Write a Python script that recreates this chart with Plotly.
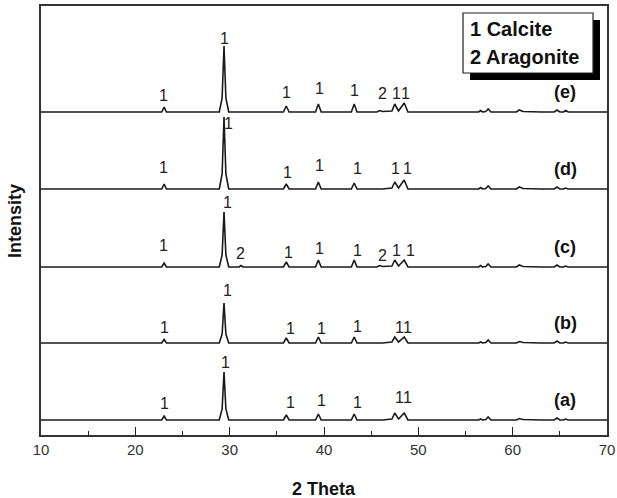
import plotly.graph_objects as go

# ---------------- data ----------------
two_theta = [10, 12, 14, 16, 18, 20, 22,
             22.8, 23.05, 23.3,
             25, 27,
             28.9, 29.2, 29.4, 29.6, 29.9,
             31.0, 31.2, 31.4,
             33,
             35.7, 36.0, 36.3,
             38,
             39.1, 39.4, 39.7,
             41,
             42.9, 43.2, 43.5,
             45.6, 45.9, 46.2,
             47.2, 47.5, 47.9, 48.5, 48.9,
             51, 54,
             56.4, 56.6, 56.8, 57.15, 57.4, 57.7,
             59,
             60.4, 60.7, 61.1,
             63,
             64.4, 64.7, 65.0, 65.4, 65.6, 65.9,
             68, 70]

# intensities above each pattern's own baseline
pattern_e = [0, 0, 0, 0, 0, 0, 0,
             0, 5, 0,
             0, 0,
             0, 14, 66, 14, 0,
             0, 0, 0,
             0,
             0, 6, 0,
             0,
             0, 8, 0,
             0,
             0, 8, 0,
             0, 1.5, 0.5,
             1, 8, 1, 9, 0,
             0, 0,
             0, 1.5, 0, 0.5, 3, 0,
             0,
             0, 2, 0.5,
             0,
             0, 2, 0, 0, 1.5, 0,
             0, 0]
pattern_d = [0, 0, 0, 0, 0, 0, 0,
             0, 5, 0,
             0, 0,
             0, 15, 72, 15, 0,
             0, 0, 0,
             0,
             0, 5, 0,
             0,
             0, 7, 0,
             0,
             0, 6, 0,
             0, 0, 0,
             1, 7, 1, 9, 0,
             0, 0,
             0, 1.5, 0, 0.5, 3, 0,
             0,
             0, 2, 0.5,
             0,
             0, 2, 0, 0, 1, 0,
             0, 0]
pattern_c = [0, 0, 0, 0, 0, 0, 0,
             0, 4, 0,
             0, 0,
             0, 12, 55, 12, 0,
             0, 1.5, 0,
             0,
             0, 5, 0,
             0,
             0, 7, 0,
             0,
             0, 7, 0,
             0, 1.5, 0.5,
             1, 7, 1, 7, 0,
             0, 0,
             0, 1.5, 0, 0.5, 3, 0,
             0,
             0, 2, 0.5,
             0,
             0, 2, 0, 0, 1, 0,
             0, 0]
pattern_b = [0, 0, 0, 0, 0, 0, 0,
             0, 3.5, 0,
             0, 0,
             0, 9, 40, 9, 0,
             0, 0, 0,
             0,
             0, 5, 0,
             0,
             0, 6, 0,
             0,
             0, 6, 0,
             0, 0, 0,
             1, 6, 1, 6, 0,
             0, 0,
             0, 1, 0, 0.5, 3, 0,
             0,
             0, 1.5, 0.5,
             0,
             0, 2, 0, 0, 1, 0,
             0, 0]
pattern_a = [0, 0, 0, 0, 0, 0, 0,
             0, 4, 0,
             0, 0,
             0, 11, 48, 11, 0,
             0, 0, 0,
             0,
             0, 5, 0,
             0,
             0, 6, 0,
             0,
             0, 6, 0,
             0, 0, 0,
             1, 7, 1, 7, 0,
             0, 0,
             0, 1, 0, 0.5, 3, 0,
             0,
             0, 1.5, 0.5,
             0,
             0, 2, 0, 0, 1, 0,
             0, 0]

sample_names = ["(a)", "(b)", "(c)", "(d)", "(e)"]
patterns = [pattern_a, pattern_b, pattern_c, pattern_d, pattern_e]
stack_offsets = [15, 92, 168, 246, 323]

# phase labels: (2theta, text, height above baseline)
phase_labels = {
    "(e)": [(23.0, "1", 17), (29.4, "1", 74), (36.0, "1", 20), (39.55, "1", 24),
            (43.25, "1", 22), (46.25, "2", 19), (47.65, "1", 19), (48.65, "1", 19)],
    "(d)": [(23.0, "1", 22), (29.85, "1", 66), (36.1, "1", 17), (39.5, "1", 24),
            (43.5, "1", 21), (47.6, "1", 21), (48.8, "1", 21)],
    "(c)": [(23.0, "1", 22), (29.8, "1", 65), (31.1, "2", 14), (36.2, "1", 15),
            (39.55, "1", 19), (43.5, "1", 17), (46.25, "2", 12), (47.65, "1", 17),
            (49.2, "1", 17)],
    "(b)": [(23.05, "1", 16), (29.8, "1", 53), (36.4, "1", 15), (39.7, "1", 15),
            (43.5, "1", 17), (48.0, "1", 16), (48.85, "1", 16)],
    "(a)": [(23.05, "1", 17), (29.6, "1", 58), (36.4, "1", 18), (39.7, "1", 20),
            (43.5, "1", 18), (47.95, "1", 23), (48.8, "1", 23)],
}

x_ticks = [10, 20, 30, 40, 50, 60, 70]
legend_lines = ["1 Calcite", "2 Aragonite"]

# ---------------- figure ----------------
FONT = "Liberation Sans, Arial, sans-serif"
fig = go.Figure()

for name, pat, off in zip(sample_names, patterns, stack_offsets):
    fig.add_trace(go.Scatter(
        x=two_theta, y=[off + v for v in pat], mode="lines",
        line=dict(color="#1a1a1a", width=1.6), name=name, showlegend=False,
        hoverinfo="skip"))

annotations = []
for name, off in zip(sample_names, stack_offsets):
    annotations.append(dict(x=65.6, y=off + 20, xref="x", yref="y", text=f"<b>{name}</b>",
                            showarrow=False, font=dict(family=FONT, size=18, color="#111")))
    for xx, tt, hh in phase_labels[name]:
        annotations.append(dict(x=xx, y=off + hh, xref="x", yref="y", text=tt,
                                showarrow=False, font=dict(family=FONT, size=16, color="#222")))

# legend box with drop shadow
shapes = [
    dict(type="rect", xref="paper", yref="y", x0=0.758, x1=0.9876, y0=355, y1=415,
         fillcolor="black", line=dict(width=0)),
    dict(type="rect", xref="paper", yref="y", x0=0.7456, x1=0.9753, y0=362, y1=422,
         fillcolor="white", line=dict(color="#222", width=1.2)),
]
annotations.append(dict(x=0.7545, y=406, xref="paper", yref="y", xanchor="left",
                        text=f"<b>{legend_lines[0]}</b>", showarrow=False,
                        font=dict(family=FONT, size=20, color="#111")))
annotations.append(dict(x=0.7545, y=378, xref="paper", yref="y", xanchor="left",
                        text=f"<b>{legend_lines[1]}</b>", showarrow=False,
                        font=dict(family=FONT, size=20, color="#111")))

# axis titles as free annotations (pixel placement)
annotations.append(dict(x=0.5, y=-0.125, xref="paper", yref="paper", yanchor="middle",
                        text="<b>2 Theta</b>", showarrow=False,
                        font=dict(family=FONT, size=18, color="#111")))
annotations.append(dict(x=-0.047, y=0.5, xref="paper", yref="paper", xanchor="center",
                        text="<b>Intensity</b>", showarrow=False, textangle=-90,
                        font=dict(family=FONT, size=18, color="#111")))

fig.update_layout(
    width=617, height=498,
    margin=dict(l=41, r=10, t=6, b=63, autoexpand=False),
    plot_bgcolor="white", paper_bgcolor="white",
    shapes=shapes, annotations=annotations,
    font=dict(family=FONT, color="#333"),
    xaxis=dict(range=[10, 70], tickvals=x_ticks, ticks="inside", ticklen=8, tickwidth=1.3,
               tickcolor="#222", showgrid=False, zeroline=False, showline=True,
               linecolor="#333", linewidth=1.5, mirror=True, automargin=False,
               minor=dict(tickvals=[15, 25, 35, 45, 55, 65], ticks="inside", ticklen=4,
                          tickwidth=1.3, tickcolor="#222"),
               tickfont=dict(family=FONT, size=15, color="#333")),
    yaxis=dict(range=[0, 429], showticklabels=False, ticks="", showgrid=False,
               zeroline=False, showline=True, linecolor="#333", linewidth=1.5, mirror=True,
               automargin=False),
)

fig.write_html("out.html", config={"displayModeBar": False},
               post_script="document.body.style.margin='0';document.body.style.padding='0';")
